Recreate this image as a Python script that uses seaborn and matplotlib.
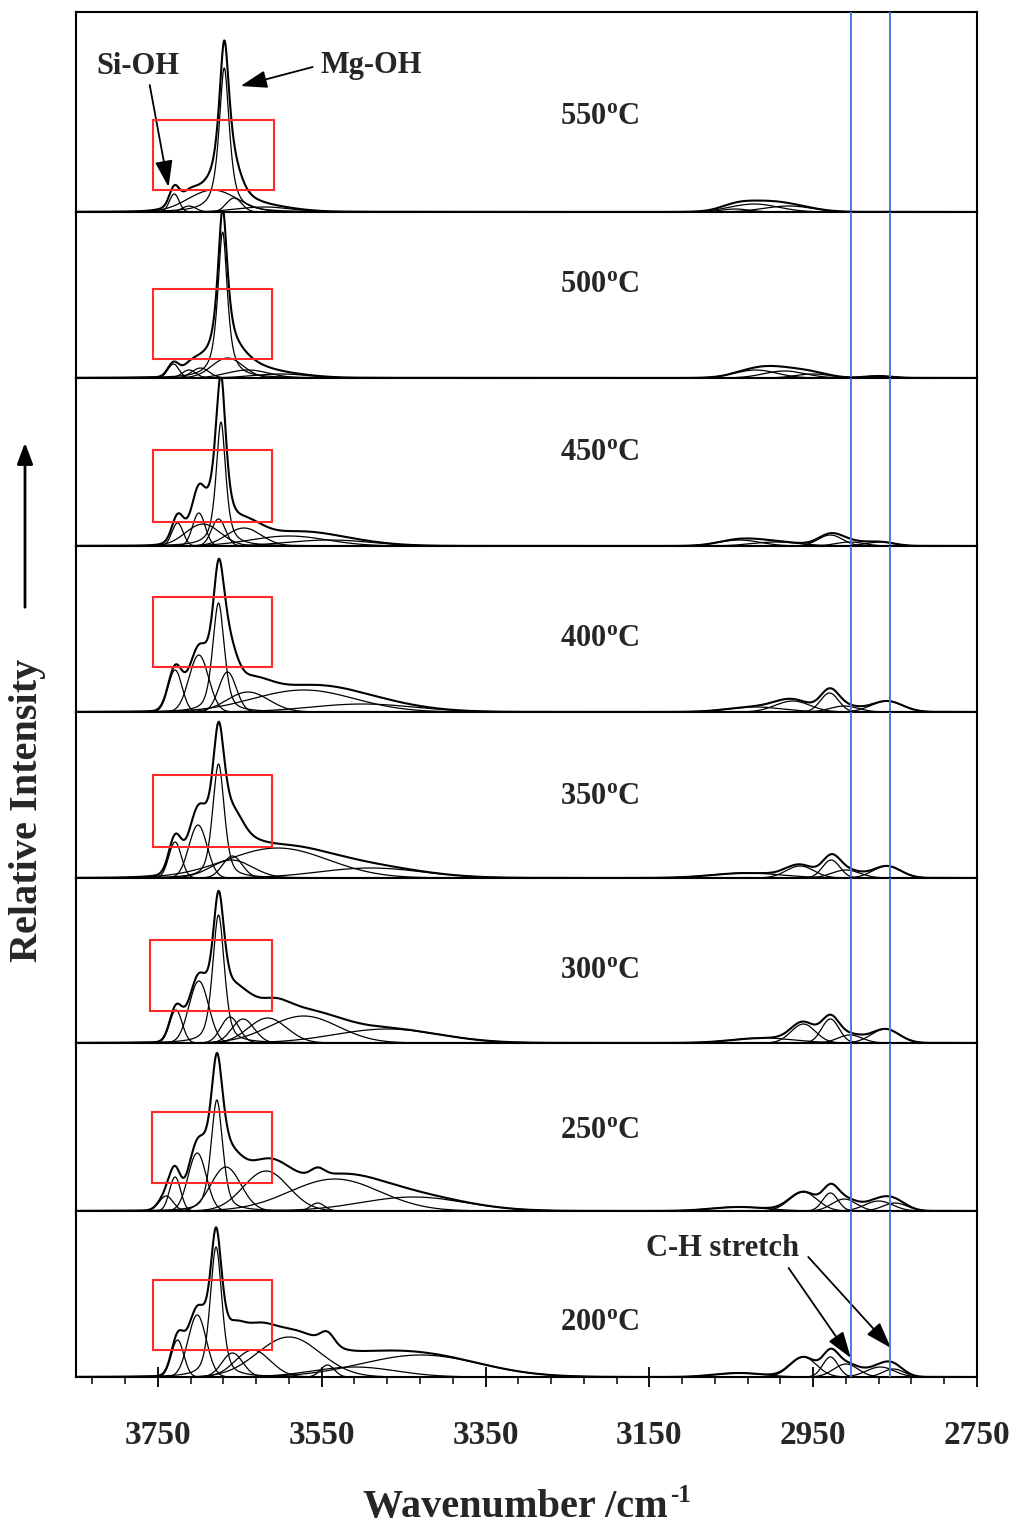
import numpy as np
import pandas as pd
import matplotlib
matplotlib.use("Agg")
import matplotlib.pyplot as plt
import seaborn as sns
from matplotlib.patches import Rectangle, FancyArrowPatch

# temperatures, top panel first
temps = [550, 500, 450, 400, 350, 300, 250, 200]

# fitted bands: (centre /cm-1, height, fwhm /cm-1, lorentz fraction)
bands_550 = [(3730, 18, 14, 0.0), (3712, 6, 20, 0.0), (3683, 22, 70, 0.0), (3669, 144, 15, 0.8),
             (3657, 14, 22, 0.0), (3620, 5, 80, 0.0),
             (3045, 3, 40, 0.0), (3022, 8, 70, 0.0), (2980, 6, 70, 0.0)]
bands_500 = [(3731, 14, 16, 0.0), (3712, 8, 20, 0.0), (3698, 10, 25, 0.0), (3671, 146, 14, 0.8),
             (3665, 20, 45, 0.0), (3640, 8, 60, 0.0), (3600, 4, 80, 0.0),
             (3020, 8, 60, 0.0), (2985, 7, 60, 0.0), (2950, 4, 50, 0.0), (2870, 2, 40, 0.0)]
bands_450 = [(3726, 23, 16, 0.0), (3700, 33, 18, 0.0), (3695, 22, 50, 0.0), (3676, 27, 20, 0.0),
             (3673, 124, 14, 0.7), (3645, 18, 50, 0.0), (3590, 10, 110, 0.0), (3540, 6, 120, 0.0),
             (3040, 6, 60, 0.0), (2995, 4, 70, 0.0), (2929, 11, 35, 0.0), (2905, 4, 40, 0.0),
             (2868, 4, 40, 0.0)]
bands_400 = [(3729, 42, 20, 0.0), (3700, 57, 28, 0.0), (3676, 109, 17, 0.5), (3665, 40, 25, 0.0),
             (3640, 20, 60, 0.0), (3572, 22, 146, 0.0), (3500, 8, 150, 0.0),
             (3020, 5, 80, 0.0), (2975, 11, 50, 0.0), (2930, 19, 26, 0.0), (2912, 6, 40, 0.0),
             (2860, 11, 45, 0.0)]
bands_350 = [(3729, 36, 18, 0.0), (3701, 53, 26, 0.0), (3676, 114, 17, 0.5), (3659, 22, 28, 0.0),
             (3660, 18, 60, 0.0), (3604, 30, 146, 0.0), (3490, 10, 150, 0.0),
             (3030, 5, 100, 0.0), (2966, 12, 40, 0.0), (2928, 18, 25, 0.0), (2910, 8, 40, 0.0),
             (2860, 12, 40, 0.0)]
bands_300 = [(3728, 33, 18, 0.0), (3700, 62, 28, 0.0), (3676, 128, 17, 0.5), (3662, 26, 26, 0.0),
             (3646, 24, 32, 0.0), (3616, 25, 55, 0.0), (3572, 27, 100, 0.0), (3470, 14, 150, 0.0),
             (3010, 5, 90, 0.0), (2962, 19, 35, 0.0), (2929, 24, 25, 0.0), (2905, 8, 35, 0.0),
             (2862, 14, 40, 0.0)]
bands_250 = [(3740, 15, 20, 0.0), (3729, 34, 16, 0.0), (3702, 58, 26, 0.0), (3678, 111, 17, 0.5),
             (3667, 44, 43, 0.0), (3618, 40, 65, 0.0), (3555, 8, 20, 0.0), (3534, 32, 130, 0.0),
             (3438, 14, 150, 0.0),
             (3040, 4, 80, 0.0), (2962, 19, 40, 0.0), (2929, 18, 22, 0.0), (2912, 12, 35, 0.0),
             (2870, 10, 40, 0.0), (2850, 8, 35, 0.0)]
bands_200 = [(3726, 37, 18, 0.0), (3702, 62, 26, 0.0), (3679, 130, 17, 0.5), (3659, 24, 30, 0.0),
             (3634, 27, 50, 0.0), (3590, 40, 90, 0.0), (3543, 12, 20, 0.0), (3510, 10, 120, 0.0),
             (3429, 22, 170, 0.0),
             (3040, 4, 70, 0.0), (2962, 20, 38, 0.0), (2929, 20, 22, 0.0), (2910, 13, 35, 0.0),
             (2868, 10, 40, 0.0), (2852, 8, 30, 0.0)]
all_bands = [bands_550, bands_500, bands_450, bands_400, bands_350, bands_300, bands_250, bands_200]

# red boxes around the OH region: (high wn, low wn, bottom, top)
box_550 = (3756, 3608, 22, 92)
box_500 = (3756, 3611, 19, 89)
box_450 = (3756, 3611, 24, 96)
box_400 = (3756, 3611, 45, 115)
box_350 = (3756, 3611, 31, 103)
box_300 = (3760, 3611, 32, 103)
box_250 = (3757, 3611, 28, 99)
box_200 = (3756, 3611, 27, 97)
boxes = [box_550, box_500, box_450, box_400, box_350, box_300, box_250, box_200]

ch_lines = [2904, 2856]
major_ticks = [3750, 3550, 3350, 3150, 2950, 2750]

# layout
panel_h = [200, 166, 168, 166, 166, 165, 168, 166]
label_y = [96, 93, 93, 73, 81, 73, 80, 55]


def band(x, c, h, w, eta):
    g = np.exp(-4 * np.log(2) * ((x - c) / w) ** 2)
    l = 1 / (1 + 4 * ((x - c) / w) ** 2)
    return h * (eta * l + (1 - eta) * g)


sns.set_style("white")
plt.rcParams['font.family'] = ['Liberation Serif', 'DejaVu Serif']
plt.rcParams['font.weight'] = 'bold'
plt.rcParams['mathtext.fontset'] = 'custom'
plt.rcParams['mathtext.rm'] = 'Liberation Serif:bold'
plt.rcParams['mathtext.it'] = 'Liberation Serif:bold'
plt.rcParams['mathtext.bf'] = 'Liberation Serif:bold'

fig = plt.figure(figsize=(10.17, 15.30), dpi=100)
gs = fig.add_gridspec(8, 1, height_ratios=panel_h, hspace=0,
                      left=76 / 1017, right=977 / 1017, top=1 - 12 / 1530, bottom=1 - 1377 / 1530)

wn = np.linspace(3850, 2750, 2201)
axes = []
for i, t in enumerate(temps):
    ax = fig.add_subplot(gs[i])
    axes.append(ax)
    rows = []
    for k, (c, h, w, eta) in enumerate(all_bands[i]):
        y = band(wn, c, h, w, eta)
        rows.append(pd.DataFrame({'wn': wn, 'I': y, 'band': k}))
    df = pd.concat(rows)
    sns.lineplot(data=df, x='wn', y='I', units='band', estimator=None, color='black',
                 lw=0.9, ax=ax)
    env = df.groupby('wn', sort=False)['I'].sum().reset_index()
    sns.lineplot(data=env, x='wn', y='I', color='black', lw=1.5, ax=ax)

    for x in ch_lines:
        ax.axvline(x, color='#4a78e6', lw=1.4, zorder=5)
    x0, x1, y0, y1 = boxes[i]
    ax.add_patch(Rectangle((x1, y0), x0 - x1, y1 - y0, fill=False, edgecolor='#ff2a2a', lw=1.5, zorder=6))
    ax.text(3211, label_y[i], f"{t}$^{{\\mathrm{{o}}}}$C", fontsize=22, fontweight='bold',
            ha='center', va='center')

    ax.set_xlim(3850, 2750)
    ax.set_ylim(0, panel_h[i])
    ax.set(xlabel='', ylabel='')
    ax.set_yticks([])
    for s in ax.spines.values():
        s.set_color('black')
        s.set_linewidth(1.5)
    if i < len(temps) - 1:
        ax.set_xticks([])
    else:
        ax.set_xticks(major_ticks)
        ax.set_xticks(np.arange(3830, 2749, -40), minor=True)
        ax.tick_params(axis='x', which='major', direction='inout', length=14, width=1.3,
                       labelsize=24, pad=24, bottom=True, color='black')
        ax.tick_params(axis='x', which='minor', direction='out', length=5, width=1.1,
                       bottom=True, color='black')
        for lab in ax.get_xticklabels():
            lab.set_fontweight('bold')

arrow_kw = dict(arrowstyle='-|>,head_length=0.9,head_width=0.3', color='black', lw=1.3,
                mutation_scale=18, shrinkA=0, shrinkB=0)

top = axes[0]
top.text(3774, 146, "Si-OH", fontsize=22, fontweight='bold', ha='center', va='center')
top.annotate('', xy=(3737, 25), xytext=(3760, 127), arrowprops=arrow_kw)
top.text(3489, 146, "Mg-OH", fontsize=22, fontweight='bold', ha='center', va='center')
top.annotate('', xy=(3649, 126), xytext=(3561, 145), arrowprops=arrow_kw)

bot = axes[-1]
bot.text(3061, 128, "C-H stretch", fontsize=22, fontweight='bold', ha='center', va='center')
bot.annotate('', xy=(2904, 19), xytext=(2980, 109), arrowprops=arrow_kw)
bot.annotate('', xy=(2855, 29), xytext=(2956, 120), arrowprops=arrow_kw)

fig.text(28 / 1017, 1 - 810 / 1530, "Relative Intensity", rotation=90, fontsize=29,
         fontweight='bold', ha='center', va='center')
fig.add_artist(FancyArrowPatch((25 / 1017, 1 - 610 / 1530), (25 / 1017, 1 - 440 / 1530),
                               transform=fig.transFigure, arrowstyle='-|>,head_length=0.8,head_width=0.3',
                               mutation_scale=16, lw=2, color='black'))
fig.text(668 / 1017, 1 - 1507 / 1530, "Wavenumber /cm", fontsize=29, fontweight='bold',
         ha='right', va='center')
fig.text(670 / 1017, 1 - 1496 / 1530, "-1", fontsize=18, fontweight='bold',
         ha='left', va='center')

fig.savefig('out.png', dpi=100)
